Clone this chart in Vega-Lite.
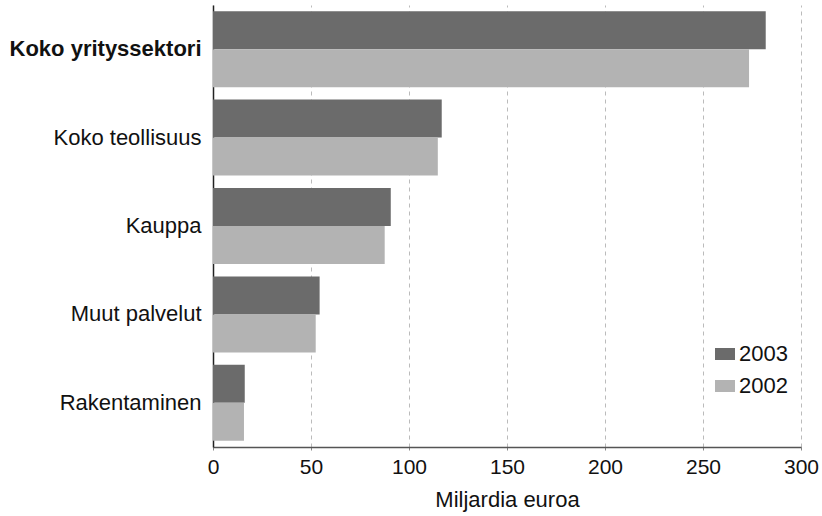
{
  "$schema": "https://vega.github.io/schema/vega-lite/v6.json",
  "autosize": {"type": "none"},
  "padding": {"left": 213, "top": 5, "right": 21, "bottom": 69},
  "width": 588,
  "height": 442,
  "background": "white",
  "data": {"values": [
    {"sektori": "Koko yrityssektori", "vuosi": "2003", "arvo": 282},
    {"sektori": "Koko yrityssektori", "vuosi": "2002", "arvo": 273.5},
    {"sektori": "Koko teollisuus", "vuosi": "2003", "arvo": 116.7},
    {"sektori": "Koko teollisuus", "vuosi": "2002", "arvo": 114.7},
    {"sektori": "Kauppa", "vuosi": "2003", "arvo": 90.7},
    {"sektori": "Kauppa", "vuosi": "2002", "arvo": 87.6},
    {"sektori": "Muut palvelut", "vuosi": "2003", "arvo": 54.4},
    {"sektori": "Muut palvelut", "vuosi": "2002", "arvo": 52.4},
    {"sektori": "Rakentaminen", "vuosi": "2003", "arvo": 16.2},
    {"sektori": "Rakentaminen", "vuosi": "2002", "arvo": 15.8}
  ]},
  "config": {
    "font": "Liberation Sans",
    "view": {"stroke": null}
  },
  "mark": {"type": "bar"},
  "encoding": {
    "y": {
      "field": "sektori", "type": "nominal",
      "sort": ["Koko yrityssektori", "Koko teollisuus", "Kauppa", "Muut palvelut", "Rakentaminen"],
      "scale": {"paddingInner": 0.14, "paddingOuter": 0.07},
      "axis": {
        "title": null, "ticks": false, "labelPadding": 12, "labelFontSize": 22,
        "labelColor": "#111", "domainColor": "#222", "domainWidth": 1.5, "labelLimit": 300,
        "labelFontWeight": {"condition": {"test": "datum.value === 'Koko yrityssektori'", "value": "bold"}, "value": "normal"}
      }
    },
    "yOffset": {"field": "vuosi", "type": "nominal", "sort": ["2003", "2002"]},
    "x": {
      "field": "arvo", "type": "quantitative",
      "scale": {"domain": [0, 300], "nice": false},
      "axis": {
        "title": "Miljardia euroa", "titleFontSize": 22, "titleFontWeight": "normal", "titleColor": "#111", "titlePadding": 12,
        "values": [0, 50, 100, 150, 200, 250, 300],
        "labelFontSize": 21, "labelColor": "#111", "labelPadding": 6, "labelFlush": false,
        "tickSize": 3, "tickColor": "#888",
        "domainColor": "#555", "domainWidth": 1.5,
        "grid": true, "gridColor": "#bbb", "gridDash": [4, 4], "gridWidth": 1
      }
    },
    "color": {
      "field": "vuosi", "type": "nominal",
      "scale": {"domain": ["2003", "2002"], "range": ["#6b6b6b", "#b3b3b3"]},
      "legend": {
        "title": null, "orient": "none", "legendX": 501, "legendY": 338,
        "symbolType": "M-1,-0.6H1V0.6H-1Z", "symbolSize": 400, "symbolStrokeWidth": 0,
        "labelFontSize": 22, "labelColor": "#111", "labelOffset": 3, "rowPadding": 10
      }
    }
  }
}
